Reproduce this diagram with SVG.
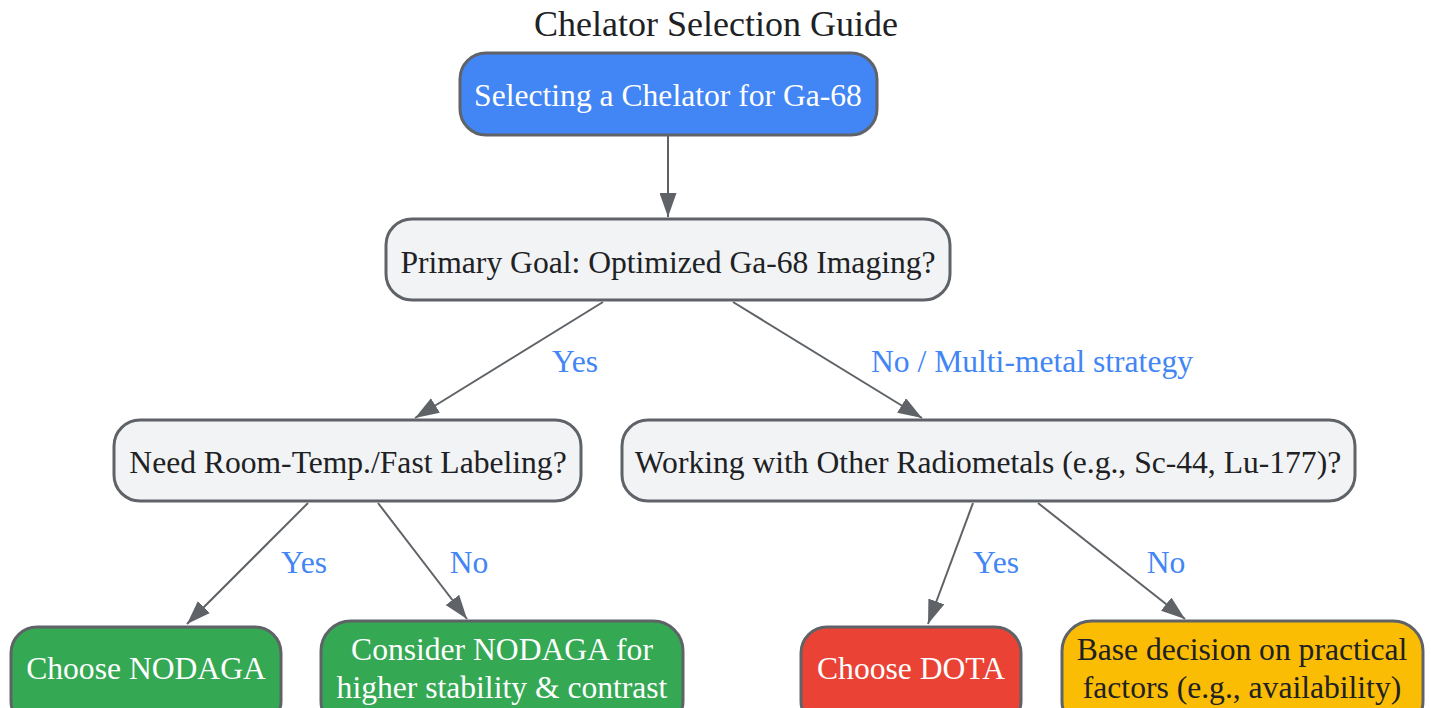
<svg xmlns="http://www.w3.org/2000/svg" width="1431" height="708" viewBox="0 0 1431 708">
  <defs>
    <marker id="arrow" viewBox="0 0 24 17" refX="24" refY="8.5" markerWidth="24" markerHeight="17" markerUnits="userSpaceOnUse" orient="auto">
      <path d="M0,0 L24,8.5 L0,17 z" fill="#5f6368"/>
    </marker>
    <style>
      text { font-family: "Liberation Serif", "Times New Roman", serif; }
      .title { font-size: 36px; fill: #202124; text-anchor: middle; }
      .node rect { stroke: #5f6368; stroke-width: 3; }
      .t { font-size: 31.6px; text-anchor: middle; }
      .light { fill: #202124; }
      .white { fill: #ffffff; }
      .edge { stroke: #5f6368; stroke-width: 2; fill: none; marker-end: url(#arrow); }
      .lbl { font-size: 31.6px; fill: #4285f4; text-anchor: middle; }
    </style>
  </defs>
  <rect width="1431" height="708" fill="#ffffff"/>
  <text class="title" x="716" y="36">Chelator Selection Guide</text>

  <g id="connectors">
    <line class="edge" x1="668" y1="136" x2="668" y2="217"/>
    <line class="edge" x1="603" y1="302" x2="415" y2="418"/>
    <line class="edge" x1="733" y1="302" x2="922" y2="418"/>
    <line class="edge" x1="308" y1="503" x2="187" y2="624"/>
    <line class="edge" x1="378" y1="503" x2="467" y2="619"/>
    <line class="edge" x1="973" y1="503" x2="928" y2="624"/>
    <line class="edge" x1="1038" y1="503" x2="1185" y2="619"/>
    <text class="lbl" x="575" y="372">Yes</text>
    <text class="lbl" x="1032" y="372">No / Multi-metal strategy</text>
    <text class="lbl" x="304" y="573">Yes</text>
    <text class="lbl" x="469" y="573">No</text>
    <text class="lbl" x="996" y="573">Yes</text>
    <text class="lbl" x="1166" y="573">No</text>
  </g>

  <g id="start" class="node">
    <rect x="460" y="53" width="417" height="82" rx="26" fill="#4285f4"/>
    <text class="t white" x="668" y="106">Selecting a Chelator for Ga-68</text>
  </g>
  <g id="goal" class="node">
    <rect x="386" y="219" width="564" height="81" rx="26" fill="#f1f3f4"/>
    <text class="t light" x="668" y="273">Primary Goal: Optimized Ga-68 Imaging?</text>
  </g>
  <g id="fast" class="node">
    <rect x="114" y="420" width="467" height="81" rx="26" fill="#f1f3f4"/>
    <text class="t light" x="348" y="473">Need Room-Temp./Fast Labeling?</text>
  </g>
  <g id="other" class="node">
    <rect x="622" y="420" width="733" height="81" rx="26" fill="#f1f3f4"/>
    <text class="t light" x="988" y="473">Working with Other Radiometals (e.g., Sc-44, Lu-177)?</text>
  </g>
  <g id="nodaga" class="node">
    <rect x="11" y="627" width="270" height="100" rx="26" fill="#34a853"/>
    <text class="t white" x="146" y="679">Choose NODAGA</text>
  </g>
  <g id="consider" class="node">
    <rect x="321" y="621" width="362" height="110" rx="30" fill="#34a853"/>
    <text class="t white" x="502" y="660">Consider NODAGA for</text>
    <text class="t white" x="502" y="698">higher stability &amp; contrast</text>
  </g>
  <g id="dota" class="node">
    <rect x="801" y="627" width="220" height="100" rx="26" fill="#ea4335"/>
    <text class="t white" x="911" y="679">Choose DOTA</text>
  </g>
  <g id="practical" class="node">
    <rect x="1062" y="621" width="361" height="110" rx="30" fill="#fbbc04"/>
    <text class="t light" x="1242" y="660">Base decision on practical</text>
    <text class="t light" x="1242" y="698">factors (e.g., availability)</text>
  </g>
</svg>
